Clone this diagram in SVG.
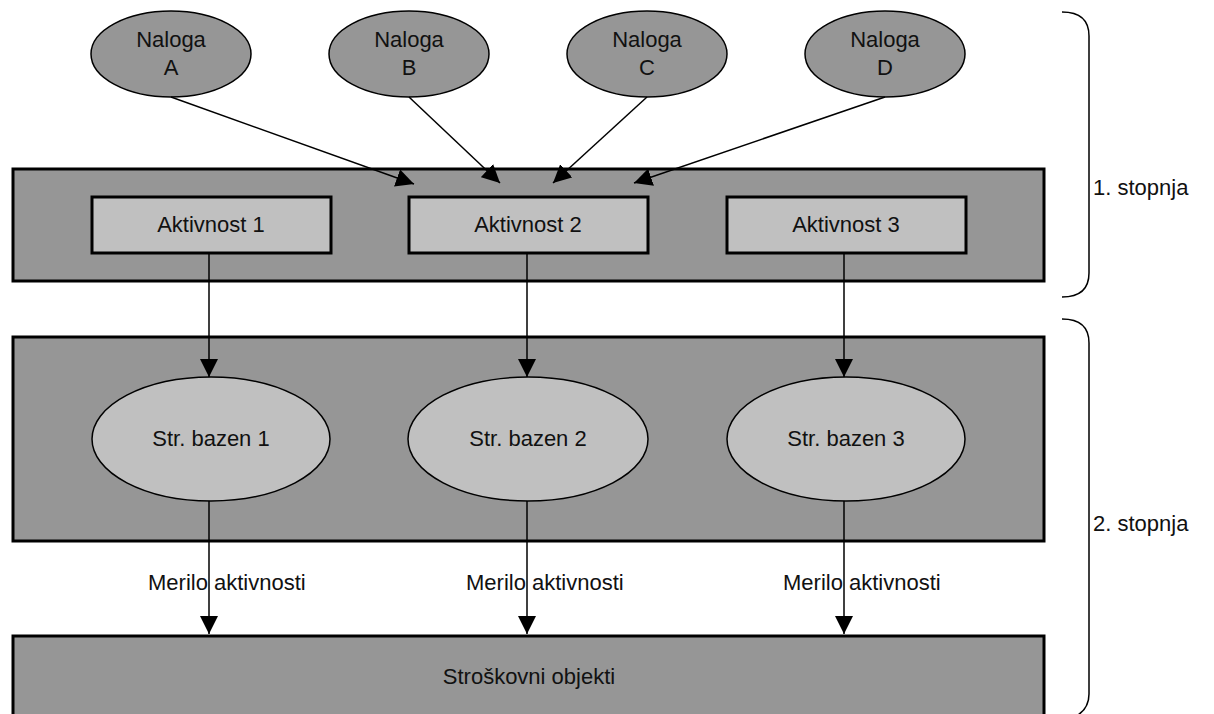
<svg xmlns="http://www.w3.org/2000/svg" width="1214" height="714" viewBox="0 0 1214 714">
  <style>
    .band { fill: #969696; stroke: #000; stroke-width: 3; }
    .act { fill: #c0c0c0; stroke: #000; stroke-width: 3; }
    .task { fill: #969696; stroke: #000; stroke-width: 1.5; }
    .pool { fill: #c0c0c0; stroke: #000; stroke-width: 1.5; }
    .lbl { font-family: "Liberation Sans", Arial, sans-serif; font-size: 22px; fill: #111; }
    .mid { text-anchor: middle; }
    .edge { stroke: #000; stroke-width: 1.5; fill: none; marker-end: url(#arrow); }
    .brace { stroke: #000; stroke-width: 1.5; fill: none; }
  </style>
  <defs>
    <marker id="arrow" markerUnits="userSpaceOnUse" markerWidth="18" markerHeight="18" viewBox="0 0 16 16" refX="16" refY="8" orient="auto">
      <path d="M0,0 L16,8 L0,16 Z" fill="#000"/>
    </marker>
  </defs>
  <rect width="1214" height="714" fill="#fff"/>

  <!-- stage bands -->
  <g id="band-activities"><rect class="band" x="13" y="169" width="1031" height="112"/></g>
  <g id="band-pools"><rect class="band" x="13" y="337" width="1031" height="204"/></g>
  <g id="cost-objects">
    <rect class="band" x="13" y="636" width="1031" height="90"/>
    <text class="lbl mid" x="529" y="684">Stroškovni objekti</text>
  </g>

  <!-- tasks -->
  <g id="task-a"><ellipse class="task" cx="171" cy="54" rx="80" ry="43"/>
    <text class="lbl mid" x="171" y="47">Naloga</text><text class="lbl mid" x="171" y="75">A</text></g>
  <g id="task-b"><ellipse class="task" cx="409" cy="54" rx="80" ry="43"/>
    <text class="lbl mid" x="409" y="47">Naloga</text><text class="lbl mid" x="409" y="75">B</text></g>
  <g id="task-c"><ellipse class="task" cx="647" cy="54" rx="80" ry="43"/>
    <text class="lbl mid" x="647" y="47">Naloga</text><text class="lbl mid" x="647" y="75">C</text></g>
  <g id="task-d"><ellipse class="task" cx="885" cy="54" rx="80" ry="43"/>
    <text class="lbl mid" x="885" y="47">Naloga</text><text class="lbl mid" x="885" y="75">D</text></g>

  <!-- activities -->
  <g id="activity-1"><rect class="act" x="92" y="197" width="239" height="56"/>
    <text class="lbl mid" x="211" y="232">Aktivnost 1</text></g>
  <g id="activity-2"><rect class="act" x="409" y="197" width="239" height="56"/>
    <text class="lbl mid" x="528" y="232">Aktivnost 2</text></g>
  <g id="activity-3"><rect class="act" x="727" y="197" width="239" height="56"/>
    <text class="lbl mid" x="846" y="232">Aktivnost 3</text></g>

  <!-- cost pools -->
  <g id="pool-1"><ellipse class="pool" cx="211" cy="439" rx="119" ry="62"/>
    <text class="lbl mid" x="211" y="446">Str. bazen 1</text></g>
  <g id="pool-2"><ellipse class="pool" cx="528" cy="439" rx="120" ry="62"/>
    <text class="lbl mid" x="528" y="446">Str. bazen 2</text></g>
  <g id="pool-3"><ellipse class="pool" cx="846" cy="439" rx="119" ry="62"/>
    <text class="lbl mid" x="846" y="446">Str. bazen 3</text></g>

  <!-- connectors -->
  <g id="connectors">
    <line class="edge" x1="171" y1="97" x2="414" y2="184"/>
    <line class="edge" x1="409" y1="97" x2="500" y2="183"/>
    <line class="edge" x1="647" y1="97" x2="553" y2="183"/>
    <line class="edge" x1="885" y1="97" x2="634" y2="183"/>

    <line class="edge" x1="209" y1="253" x2="209" y2="377"/>
    <line class="edge" x1="527" y1="253" x2="527" y2="377"/>
    <line class="edge" x1="844" y1="253" x2="844" y2="377"/>

    <line class="edge" x1="209" y1="501" x2="209" y2="634"/>
    <line class="edge" x1="527" y1="501" x2="527" y2="634"/>
    <line class="edge" x1="844" y1="501" x2="844" y2="634"/>

    <text class="lbl" x="148" y="590">Merilo aktivnosti</text>
    <text class="lbl" x="466" y="590">Merilo aktivnosti</text>
    <text class="lbl" x="783" y="590">Merilo aktivnosti</text>
  </g>

  <!-- stage braces -->
  <g id="stage-1">
    <path class="brace" d="M1062,12 C1080,12 1089,20 1089,36 L1089,273 C1089,289 1080,297 1062,297"/>
    <text class="lbl" x="1093" y="195">1. stopnja</text>
  </g>
  <g id="stage-2">
    <path class="brace" d="M1062,319 C1080,319 1089,327 1089,343 L1089,694 C1089,706 1082,714 1072,718"/>
    <text class="lbl" x="1093" y="531">2. stopnja</text>
  </g>
</svg>
